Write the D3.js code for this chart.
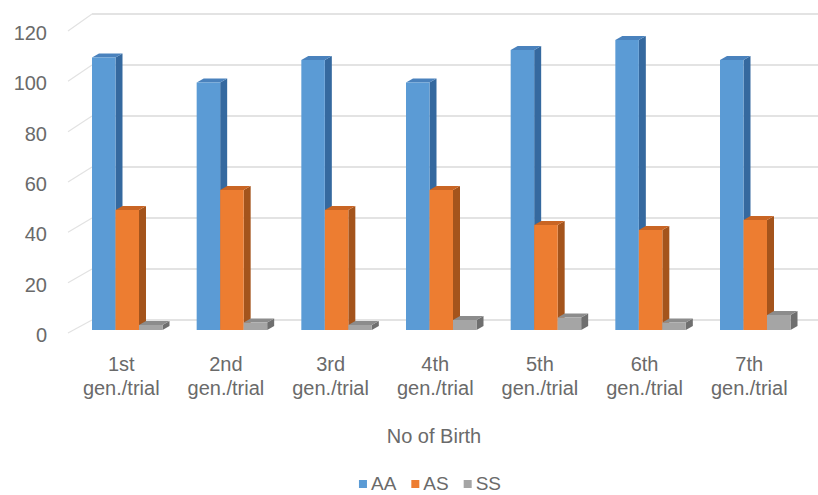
<!DOCTYPE html>
<html><head><meta charset="utf-8">
<script src="https://cdn.jsdelivr.net/npm/d3@7"></script>
<style>
body{margin:0;background:#fff;}
svg text{font-family:"Liberation Sans",Arial,sans-serif;fill:#6a6a6a;}
</style>
</head><body><svg id="c" width="818" height="495"></svg>
<script>
const categories = ["1st","2nd","3rd","4th","5th","6th","7th"];
const categorySub = ["gen./trial","gen./trial","gen./trial","gen./trial","gen./trial","gen./trial","gen./trial"];
const seriesNames = ["AA","AS","SS"];
const AA = [109, 99, 108, 99, 112, 116, 108];
const AS = [48, 56, 48, 56, 42, 40, 44];
const SS = [2, 3, 2, 4, 5, 3, 6];
const yTicks = [0, 20, 40, 60, 80, 100, 120];
const xTitle = "No of Birth";

const seriesValues = {AA: AA, AS: AS, SS: SS};
const palette = {
  AA: {front:"#5b9bd5", side:"#35699f", top:"#4a82bd"},
  AS: {front:"#ed7d31", side:"#a4541c", top:"#c96524"},
  SS: {front:"#a5a5a5", side:"#6f6f6f", top:"#8c8c8c"}
};

const svg = d3.select("#c");
const W = 818, H = 495;

const yBar = d3.scaleLinear().domain([0,120]).range([330, 30]);
const yWallFront = d3.scaleLinear().domain([0,120]).range([333, 31]);
const yWallBack = d3.scaleLinear().domain([0,120]).range([320, 14]);
const x0 = d3.scaleBand().domain(categories).range([92, 790.5]).paddingInner(0.3265).paddingOuter(0);
const x1 = d3.scaleBand().domain(seriesNames).range([0, x0.bandwidth()]);
const dx = 7, dy = -4;
const wallFrontX = 68, wallBackX = 92;

// back wall gridlines
svg.append("g").selectAll("line").data(yTicks).join("line")
  .attr("x1", wallBackX).attr("x2", W)
  .attr("y1", d => yWallBack(d)).attr("y2", d => yWallBack(d))
  .attr("stroke", "#dadada").attr("stroke-width", 1.5);

// left wall lines
svg.append("g").selectAll("line").data(yTicks).join("line")
  .attr("x1", wallFrontX).attr("x2", wallBackX)
  .attr("y1", d => yWallFront(d)).attr("y2", d => yWallBack(d))
  .attr("stroke", "#e2e2e2").attr("stroke-width", 1.2);

// y tick labels
svg.append("g").selectAll("text").data(yTicks).join("text")
  .attr("x", 47).attr("y", d => yWallFront(d) + 2)
  .attr("text-anchor", "end").attr("dominant-baseline", "central")
  .style("font-size", "20px")
  .text(d => d);

// bars
const bars = svg.append("g");
categories.forEach((c, i) => {
  seriesNames.forEach(s => {
    const v = seriesValues[s][i];
    const x = x0(c) + x1(s), w = x1.bandwidth();
    const y0 = yBar(0), yt = yBar(v);
    const col = palette[s];
    const g = bars.append("g");
    g.append("path").attr("d", `M${x+w},${y0} L${x+w+dx},${y0+dy} L${x+w+dx},${yt+dy} L${x+w},${yt} Z`).attr("fill", col.side);
    g.append("path").attr("d", `M${x},${yt} L${x+dx},${yt+dy} L${x+w+dx},${yt+dy} L${x+w},${yt} Z`).attr("fill", col.top);
    g.append("rect").attr("x", x).attr("y", yt).attr("width", w).attr("height", y0 - yt).attr("fill", col.front);
  });
});

// category labels
const cl = svg.append("g").selectAll("text").data(categories).join("text")
  .attr("text-anchor", "middle")
  .style("font-size", "20px");
cl.append("tspan").attr("x", d => x0(d) + x0.bandwidth()/2 - 6).attr("y", 371).text(d => d);
cl.append("tspan").attr("x", d => x0(d) + x0.bandwidth()/2 - 6).attr("y", 395).text((d,i) => categorySub[i]);

// axis title
svg.append("text").attr("x", 434).attr("y", 443).attr("text-anchor", "middle")
  .style("font-size", "20px").text(xTitle);

// legend
const leg = svg.append("g");
let lx = 0;
seriesNames.forEach(s => {
  const g = leg.append("g");
  g.append("rect").attr("x", lx).attr("y", 480).attr("width", 8).attr("height", 8).attr("fill", palette[s].front);
  const t = g.append("text").attr("x", lx + 12).attr("y", 490).style("font-size", "19px").text(s);
  lx += 12 + t.node().getComputedTextLength() + 15;
});
const total = lx - 15;
leg.attr("transform", `translate(${430 - total/2},0)`);
</script>
</body></html>
